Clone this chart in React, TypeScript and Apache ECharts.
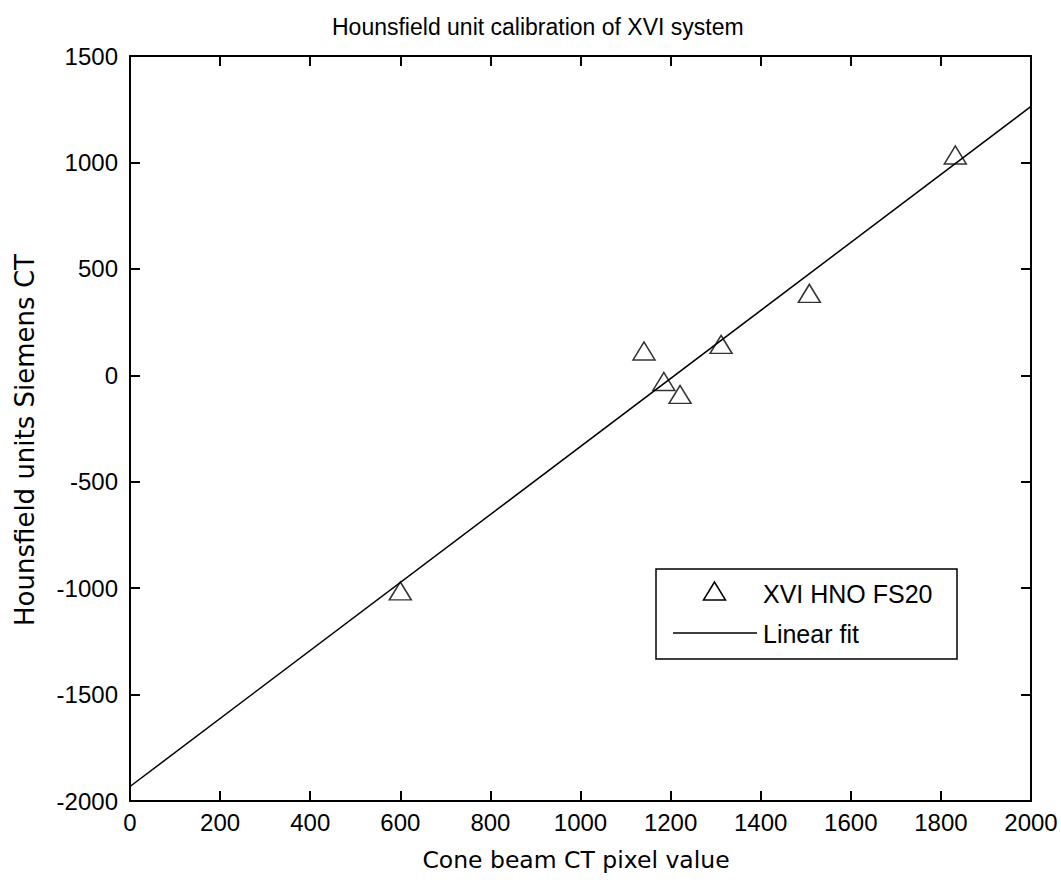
import React, { useEffect, useRef } from "react";
import * as echarts from "echarts";

const titleText = "Hounsfield unit calibration of XVI system";
const xName = "Cone beam CT pixel value";
const yName = "Hounsfield units Siemens CT";
const seriesNames = ["XVI HNO FS20", "Linear fit"];

const hnoX = [600, 1141, 1185, 1221, 1312, 1508, 1832];
const hnoY = [-1013, 114, -29, -90, 145, 385, 1035];

const fitX = [0, 2000];
const fitY = [-1932, 1263];

const xMin = 0, xMax = 2000, xStep = 200;
const yMin = -2000, yMax = 1500, yStep = 500;

const FONT = "'Liberation Sans', Arial, sans-serif";
const NAMEFONT = "'DejaVu Sans', sans-serif";

export default function App() {
  const ref = useRef<HTMLDivElement>(null);
  useEffect(() => {
    document.body.style.margin = "0";
    const chart = echarts.init(ref.current!, null, { renderer: "svg" });
    const axisLine = { show: true, onZero: false, lineStyle: { color: "#000", width: 2 } };
    const axisTick = { show: true, inside: true, length: 10, lineStyle: { color: "#000", width: 2 } };
    const labelStyle = { color: "#000", fontFamily: FONT, fontSize: 24, formatter: (v: number) => String(v) };
    const option: any = {
      animation: false,
      backgroundColor: "#fff",
      title: {
        text: titleText,
        left: 332,
        top: 15,
        padding: 0,
        textStyle: { color: "#000", fontFamily: FONT, fontSize: 23, fontWeight: "normal" },
      },
      grid: { left: 130, top: 56, right: 30, bottom: 79, containLabel: false },
      xAxis: [
        {
          type: "value", min: xMin, max: xMax, interval: xStep, position: "bottom",
          name: xName, nameLocation: "middle", nameGap: 47,
          nameTextStyle: { color: "#000", fontFamily: NAMEFONT, fontSize: 23.5, padding: [0, 9, 0, 0] },
          axisLine, axisTick, splitLine: { show: false },
          axisLabel: { ...labelStyle, margin: 9 },
        },
        {
          type: "value", min: xMin, max: xMax, interval: xStep, position: "top",
          axisLine, axisTick, splitLine: { show: false }, axisLabel: { show: false },
        },
      ],
      yAxis: [
        {
          type: "value", min: yMin, max: yMax, interval: yStep, position: "left",
          name: yName, nameLocation: "middle", nameGap: 92,
          nameTextStyle: { color: "#000", fontFamily: NAMEFONT, fontSize: 26, padding: [0, 23, 0, 0] },
          axisLine, axisTick, splitLine: { show: false },
          axisLabel: { ...labelStyle, margin: 12 },
        },
        {
          type: "value", min: yMin, max: yMax, interval: yStep, position: "right",
          axisLine, axisTick, splitLine: { show: false }, axisLabel: { show: false },
        },
      ],
      series: [
        {
          name: seriesNames[1],
          type: "line",
          data: fitX.map((x, i) => [x, fitY[i]]),
          showSymbol: false,
          symbol: "none",
          lineStyle: { color: "#000", width: 1.5 },
          z: 2,
        },
        {
          name: seriesNames[0],
          type: "scatter",
          data: hnoX.map((x, i) => [x, hnoY[i]]),
          symbol: "triangle",
          symbolSize: [22, 18],
          itemStyle: { color: "none", borderColor: "#000", borderWidth: 1.5 },
          z: 3,
        },
      ],
      graphic: [
        {
          type: "rect",
          shape: { x: 656, y: 569, width: 301, height: 90 },
          style: { fill: "#fff", stroke: "#000", lineWidth: 1.5 },
          z: 10,
        },
        {
          type: "polygon",
          shape: { points: [[714.5, 582], [703.5, 600], [725.5, 600]] },
          style: { fill: "none", stroke: "#000", lineWidth: 1.5 },
          z: 11,
        },
        {
          type: "text",
          x: 763, y: 594,
          style: { text: seriesNames[0], fill: "#000", font: `25px ${FONT}`, textVerticalAlign: "middle", textAlign: "left" },
          z: 11,
        },
        {
          type: "line",
          shape: { x1: 673, y1: 633, x2: 757, y2: 633 },
          style: { stroke: "#000", lineWidth: 1.5 },
          z: 11,
        },
        {
          type: "text",
          x: 763, y: 634,
          style: { text: seriesNames[1], fill: "#000", font: `25px ${FONT}`, textVerticalAlign: "middle", textAlign: "left" },
          z: 11,
        },
      ],
    };
    chart.setOption(option);
    return () => chart.dispose();
  }, []);
  return (
    <div
      ref={ref}
      style={{ position: "fixed", left: 0, top: 0, width: 1061, height: 880, background: "#fff" }}
    />
  );
}
